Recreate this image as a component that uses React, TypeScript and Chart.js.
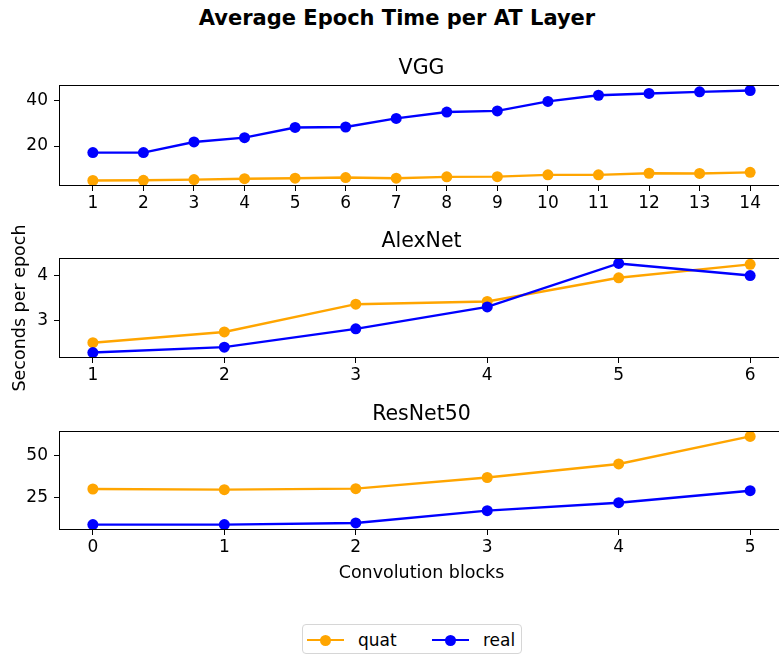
import React, { useEffect, useRef } from "react";
import { Chart, registerables } from "chart.js";

Chart.register(...registerables);

const FONT = "'DejaVu Sans', 'Liberation Sans', sans-serif";
const QUAT_COLOR = "#ffa500";
const REAL_COLOR = "#0000ff";

// ---- data ----
const vggBlocks = [1, 2, 3, 4, 5, 6, 7, 8, 9, 10, 11, 12, 13, 14];
const vggQuat = [4.8, 4.9, 5.2, 5.6, 5.8, 6.1, 5.8, 6.4, 6.5, 7.3, 7.3, 8.0, 7.9, 8.4];
const vggReal = [17.1, 17.1, 21.8, 23.7, 28.2, 28.4, 32.2, 35.0, 35.5, 39.7, 42.4, 43.2, 43.9, 44.5];
const vggYTicks = [20, 40];

const alexBlocks = [1, 2, 3, 4, 5, 6];
const alexQuat = [2.51, 2.75, 3.37, 3.43, 3.96, 4.26];
const alexReal = [2.29, 2.41, 2.82, 3.31, 4.28, 4.01];
const alexYTicks = [3, 4];

const resBlocks = [0, 1, 2, 3, 4, 5];
const resQuat = [30.1, 29.7, 30.3, 36.9, 44.9, 61.2];
const resReal = [9.05, 9.05, 10.0, 17.3, 22.0, 29.1];
const resYTicks = [25, 50];

const seriesNames = ["quat", "real"];
const suptitle = "Average Epoch Time per AT Layer";
const yLabel = "Seconds per epoch";
const xLabel = "Convolution blocks";

const framePlugin = {
  id: "frame",
  afterDraw(chart: any) {
    const { ctx, chartArea: a } = chart;
    ctx.save();
    ctx.strokeStyle = "#000";
    ctx.lineWidth = 1;
    const l = Math.round(a.left) - 0.5;
    const t = Math.round(a.top) - 0.5;
    const r = Math.round(a.right) + 0.5;
    const b = Math.round(a.bottom) + 0.5;
    ctx.strokeRect(l, t, r - l, b - t);
    ctx.restore();
  },
};

type PanelProps = {
  title: string;
  xs: number[];
  quat: number[];
  real: number[];
  yTicks: number[];
  top: number;
  height: number;
  padTop: number;
  padBottom: number;
  xAxisH: number;
  xTitle?: string;
  yTitle?: string;
};

const tickFont = { family: FONT, size: 17 };

function PanelChart(p: PanelProps) {
  const ref = useRef<HTMLCanvasElement>(null);
  useEffect(() => {
    const all = [...p.quat, ...p.real];
    const lo = Math.min(...all);
    const hi = Math.max(...all);
    const ym = (hi - lo) * 0.05;
    const xlo = Math.min(...p.xs);
    const xhi = Math.max(...p.xs);
    const xm = (xhi - xlo) * 0.05;
    const mk = (label: string, vals: number[], color: string, order: number) => ({
      label,
      data: p.xs.map((x, i) => ({ x, y: vals[i] })),
      borderColor: color,
      backgroundColor: color,
      pointBackgroundColor: color,
      pointBorderColor: color,
      pointBorderWidth: 0,
      pointRadius: 5.5,
      borderWidth: 2.4,
      tension: 0,
      order,
    });
    const chart = new Chart(ref.current as HTMLCanvasElement, {
      type: "line",
      data: {
        datasets: [
          mk(seriesNames[0], p.quat, QUAT_COLOR, 2),
          mk(seriesNames[1], p.real, REAL_COLOR, 1),
        ],
      },
      options: {
        responsive: false,
        animation: false,
        devicePixelRatio: 1,
        events: [],
        layout: { padding: { left: 0, right: 17, top: p.padTop, bottom: p.padBottom } },
        plugins: {
          legend: { display: false },
          tooltip: { enabled: false },
          title: {
            display: true,
            text: p.title,
            fullSize: false,
            color: "#000",
            font: { family: FONT, size: 20.5, weight: "normal", lineHeight: "25px" } as any,
            padding: { top: 0, bottom: 5 },
          },
        },
        scales: {
          x: {
            type: "linear",
            min: xlo - xm,
            max: xhi + xm,
            afterBuildTicks: (s: any) => {
              s.ticks = p.xs.map((v) => ({ value: v }));
            },
            afterFit: (s: any) => {
              s.height = p.xAxisH;
            },
            ticks: { color: "#000", font: tickFont, padding: 2, autoSkip: false, maxRotation: 0 },
            grid: { display: true, drawOnChartArea: false, drawTicks: true, tickLength: 6, color: "#000", lineWidth: 1 },
            border: { display: false },
            title: p.xTitle
              ? { display: true, text: p.xTitle, color: "#000", font: { family: FONT, size: 17.5 }, padding: { top: 0, bottom: 0 } }
              : { display: false },
          },
          y: {
            type: "linear",
            min: lo - ym,
            max: hi + ym,
            afterBuildTicks: (s: any) => {
              s.ticks = p.yTicks.map((v) => ({ value: v }));
            },
            afterFit: (s: any) => {
              s.width = 60;
            },
            ticks: { color: "#000", font: tickFont, padding: 6 },
            grid: { display: true, drawOnChartArea: false, drawTicks: true, tickLength: 6, color: "#000", lineWidth: 1 },
            border: { display: false },
            title: p.yTitle
              ? { display: true, text: p.yTitle, color: "#000", font: { family: FONT, size: 17.5 }, padding: { top: 10, bottom: 0 } }
              : { display: false },
          },
        },
      } as any,
      plugins: [framePlugin],
    });
    return () => chart.destroy();
  }, []);
  return (
    <canvas
      ref={ref}
      width={800}
      height={p.height}
      style={{ position: "absolute", left: 0, top: p.top, width: 800, height: p.height }}
    />
  );
}

function LegendItem({ left, color, label }: { left: number; color: string; label: string }) {
  return (
    <div style={{ position: "absolute", left, top: 0, height: 30, width: 90 }}>
      <div style={{ position: "absolute", left: 0, top: 14, width: 37, height: 2.4, background: color }} />
      <div
        style={{
          position: "absolute",
          left: 13,
          top: 9.7,
          width: 11,
          height: 11,
          borderRadius: "50%",
          background: color,
        }}
      />
      <div
        style={{
          position: "absolute",
          left: 51,
          top: 3,
          lineHeight: "24px",
          fontFamily: FONT,
          fontSize: 17,
          color: "#000",
          whiteSpace: "nowrap",
        }}
      >
        {label}
      </div>
    </div>
  );
}

export default function App() {
  return (
    <div
      style={{
        position: "fixed",
        left: 0,
        top: 0,
        width: 779,
        height: 655,
        overflow: "hidden",
        background: "#fff",
      }}
    >
      <div
        style={{
          position: "absolute",
          left: 0,
          top: 6,
          width: 794,
          textAlign: "center",
          fontFamily: FONT,
          fontWeight: "bold",
          fontSize: 21,
          lineHeight: "24px",
          color: "#000",
        }}
      >
        {suptitle}
      </div>
      <PanelChart
        title="VGG"
        xs={vggBlocks}
        quat={vggQuat}
        real={vggReal}
        yTicks={vggYTicks}
        top={56}
        height={159}
        padTop={0}
        padBottom={0}
        xAxisH={30}
      />
      <PanelChart
        title="AlexNet"
        xs={alexBlocks}
        quat={alexQuat}
        real={alexReal}
        yTicks={alexYTicks}
        top={215}
        height={187}
        padTop={14}
        padBottom={15}
        xAxisH={30}
        yTitle={yLabel}
      />
      <PanelChart
        title="ResNet50"
        xs={resBlocks}
        quat={resQuat}
        real={resReal}
        yTicks={resYTicks}
        top={402}
        height={182}
        padTop={0}
        padBottom={0}
        xAxisH={55}
        xTitle={xLabel}
      />
      <div
        style={{
          position: "absolute",
          left: 302,
          top: 624,
          width: 218,
          height: 28,
          border: "1px solid #d6d6d6",
          borderRadius: 4,
          background: "#fff",
        }}
      >
        <LegendItem left={4} color={QUAT_COLOR} label={seriesNames[0]} />
        <LegendItem left={129} color={REAL_COLOR} label={seriesNames[1]} />
      </div>
    </div>
  );
}
